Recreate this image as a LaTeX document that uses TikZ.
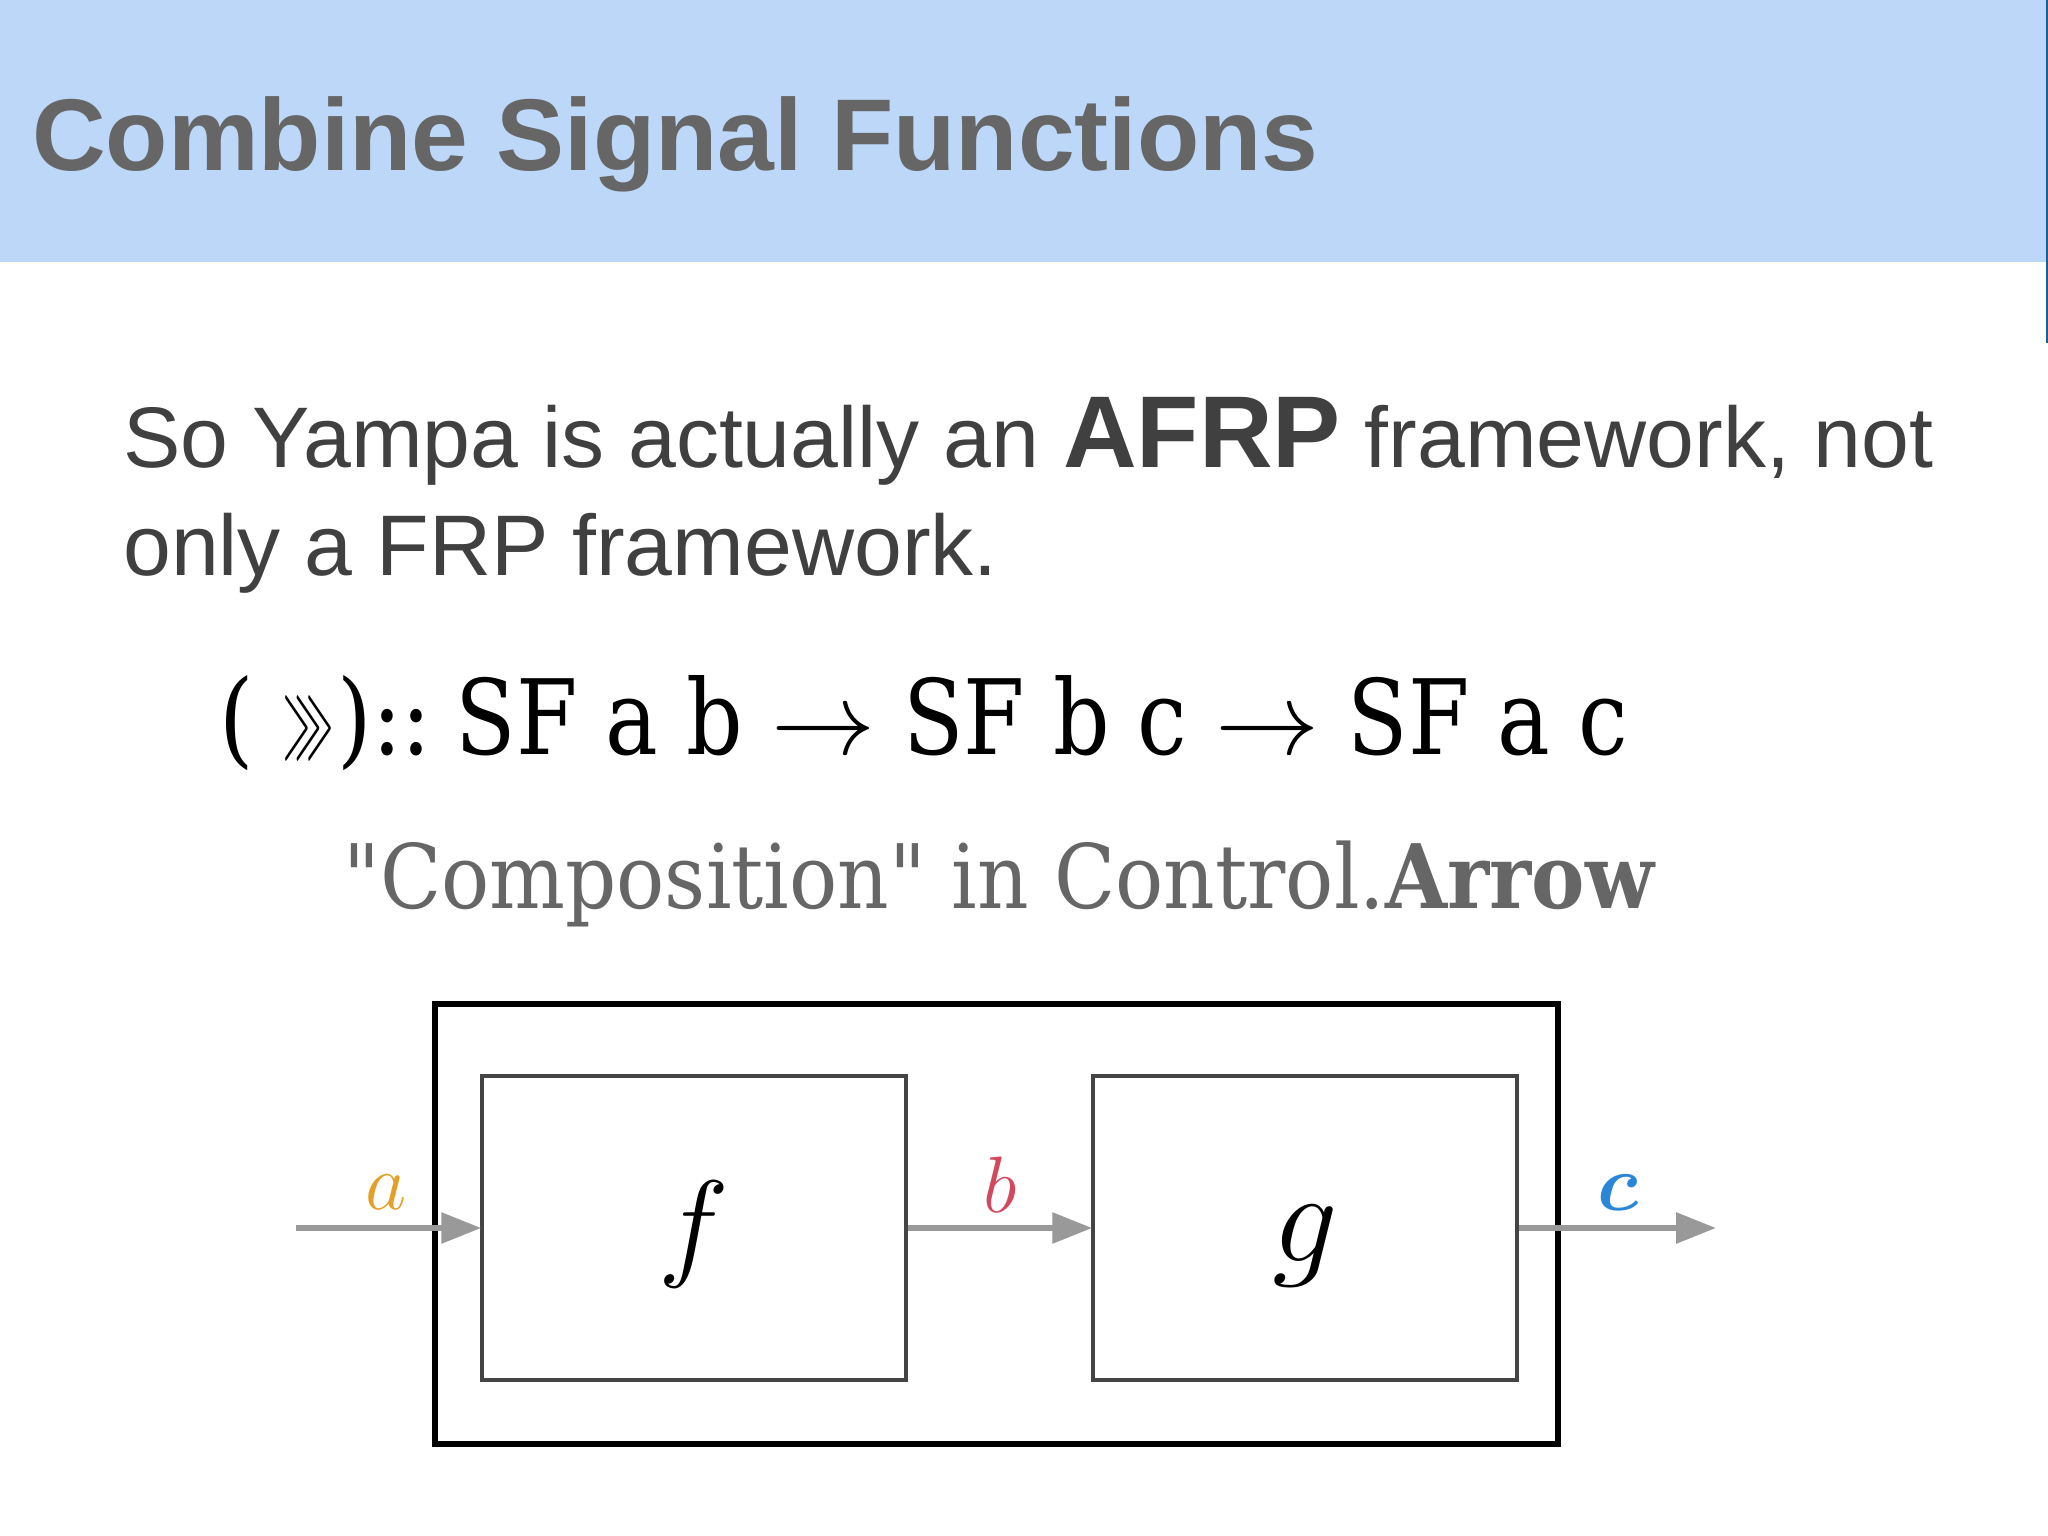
\RequirePackage{fix-cm}
\documentclass[tikz,border=0pt]{standalone}
\usepackage{amsmath,amssymb}
\usepackage{fontspec}
\setmainfont{Liberation Sans}
\newfontfamily\serifdv[FakeStretch=0.85]{DejaVu Serif}
\newfontfamily\capdv[FakeStretch=0.9]{DejaVu Serif}
\usetikzlibrary{positioning, arrows.meta}
\definecolor{bandblue}{HTML}{BDD7F8}
\definecolor{titlegray}{HTML}{666666}
\definecolor{bodygray}{HTML}{404040}
\definecolor{boxgray}{HTML}{444444}
\definecolor{flowgray}{HTML}{999999}
\definecolor{aorange}{HTML}{E2A126}
\definecolor{bred}{HTML}{D2495E}
\definecolor{cblue}{HTML}{2A86D8}

\begin{document}
\begin{tikzpicture}[x=1pt, y=-1pt,
  txt/.style={anchor=base west, inner sep=0pt},
  sfbox/.style={draw=boxgray, line width=3.5pt, minimum width=424pt, minimum height=304pt, inner sep=0pt},
  flow/.style={draw=flowgray, line width=6pt, -{Triangle[length=40pt, width=30pt]}, shorten >=-1pt},
  sig/.style={inner sep=0pt, font=\fontsize{80}{80}\selectfont}]
\useasboundingbox (0,0) rectangle (2048,1536);
% header band
\fill[bandblue] (0,0) rectangle (2048,262);
\draw[cblue!70!black, line width=1.5pt] (2047,0) -- (2047,343);
\node[txt, text=titlegray, font=\fontsize{102}{110}\selectfont\bfseries] (title) at (32,170) {Combine Signal Functions};
% body text
\node[txt, text=bodygray, font=\fontsize{86}{90}\selectfont] (line1) at (123,467) {So Yampa is actually an {\fontsize{102}{100}\selectfont\bfseries AFRP} framework, not};
\node[txt, text=bodygray, font=\fontsize{86}{90}\selectfont] (line2) at (123,575) {only a FRP framework.};
\node[txt, font=\fontsize{104}{110}\selectfont\serifdv] (sig) at (219,754) {(\hspace{30pt}\scalebox{0.36}[1]{$\ggg$}\hspace{4pt})::\hspace{24pt}SF a b $\rightarrow$ SF b c $\rightarrow$ SF a c};
\node[txt, text=titlegray, font=\fontsize{89}{95}\selectfont\capdv] (caption) at (343,908) {"Composition" in Control.\textbf{Arrow}};
% diagram
\node[draw=black, line width=6pt, minimum width=1123pt, minimum height=440pt] (outer) at (996.5,1224) {};
\node[sfbox] (f) at (694,1228) {\fontsize{120}{120}\selectfont\raisebox{-36pt}[0pt][0pt]{$f$}};
\node[sfbox] (g) at (1305,1228) {\fontsize{130}{130}\selectfont\raisebox{-33pt}[0pt][0pt]{$g$}};
\coordinate (ain) at (296,1228);
\coordinate (cout) at (1715,1228);
\draw[flow] (ain) -- (f.west);
\draw[flow] (f.east) -- (g.west);
\draw[flow] (g.east) -- (cout);
\node[sig, text=aorange] (la) at (386,1192) {$a$};
\node[sig, text=bred] (lb) at (1000,1185) {$b$};
\node[sig, text=cblue] (lc) at (1618,1193) {$\boldsymbol{c}$};
\end{tikzpicture}
\end{document}
